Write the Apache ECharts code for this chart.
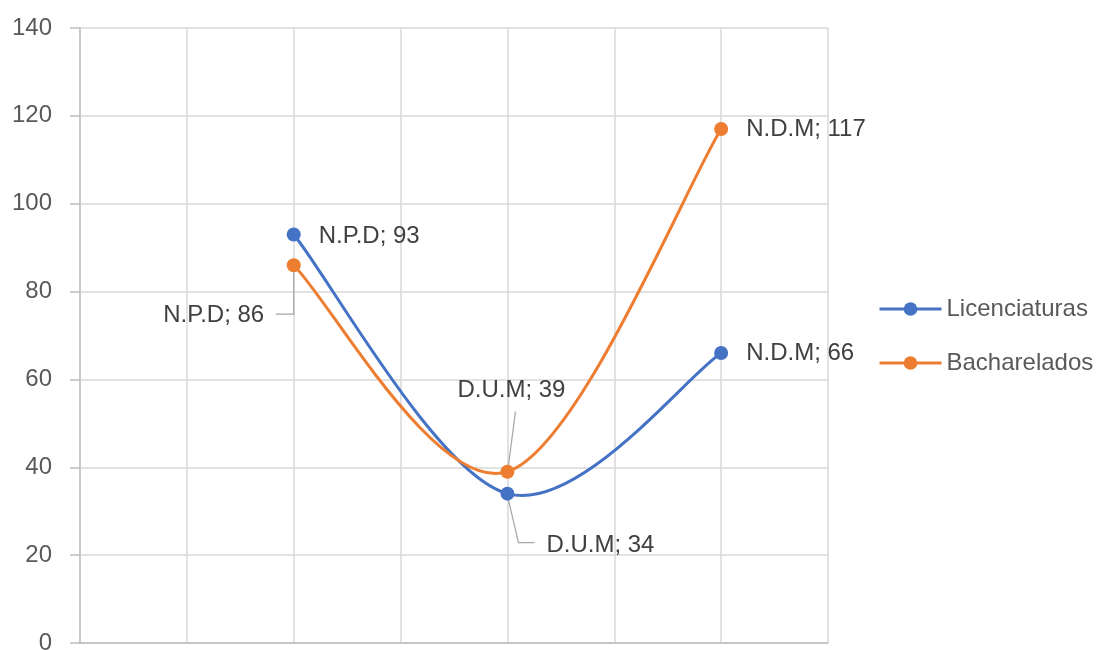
<!DOCTYPE html>
<html>
<head>
<meta charset="utf-8">
<script src="https://cdn.jsdelivr.net/npm/echarts@6/dist/echarts.min.js"></script>
<style>html,body{margin:0;padding:0;background:#fff;}#c{width:1107px;height:650px;}</style>
</head>
<body>
<div id="c"></div>
<script>
// ---- data ----
const categories = ['N.P.D', 'D.U.M', 'N.D.M'];
const xPositions = [2, 4, 6];
const licenciaturas = [93, 34, 66];
const bacharelados = [86, 39, 117];
const seriesNames = ['Licenciaturas', 'Bacharelados'];
const yMin = 0, yMax = 140, yStep = 20;
const xMin = 0, xMax = 7, xStep = 1;

const BLUE = '#4472C4', ORANGE = '#ED7D31';
const COLORS = [BLUE, ORANGE];
const SERIES_VALUES = [licenciaturas, bacharelados];
const FONT = 'Liberation Sans';

function fmt(p) { return categories[p.dataIndex] + '; ' + p.value[1]; }

const labelBase = { show: true, color: '#404040', fontFamily: FONT, fontSize: 24, formatter: fmt };

// per-point label placement
const licLabels = [
  { position: 'right', distance: 18, offset: [0, 2] },
  { position: 'inside', offset: [93, 52] },
  { position: 'right', distance: 18 }
];
const bachLabels = [
  { position: 'inside', offset: [-80, 50] },
  { position: 'inside', offset: [4, -81] },
  { position: 'right', distance: 18 }
];

function withLabels(vals, lbls) {
  return vals.map((v, i) => ({ value: [xPositions[i], v], label: lbls[i] }));
}

// leader lines (pixel offsets from the data point)
const leaders = [
  { series: bacharelados, idx: 0, path: [[0, 6], [0, 49], [-18, 49]] },
  { series: bacharelados, idx: 1, path: [[1, -6], [8, -60]] },
  { series: licenciaturas, idx: 1, path: [[1, 6], [11, 49], [27, 49]] }
];

// Excel-like smoothed curve (Catmull-Rom -> cubic Bezier) in pixel space
function smoothPath(p) {
  const n = p.length;
  let d = 'M' + p[0][0] + ',' + p[0][1];
  for (let i = 0; i < n - 1; i++) {
    const p0 = p[Math.max(i - 1, 0)], p1 = p[i], p2 = p[i + 1], p3 = p[Math.min(i + 2, n - 1)];
    const c1 = [p1[0] + (p2[0] - p0[0]) / 6, p1[1] + (p2[1] - p0[1]) / 6];
    const c2 = [p2[0] - (p3[0] - p1[0]) / 6, p2[1] - (p3[1] - p1[1]) / 6];
    d += ' C' + c1[0] + ',' + c1[1] + ' ' + c2[0] + ',' + c2[1] + ' ' + p2[0] + ',' + p2[1];
  }
  return d;
}

const chart = echarts.init(document.getElementById('c'));
chart.setOption({
  animation: false,
  backgroundColor: '#fff',
  grid: { left: 80, right: 279, top: 28, bottom: 7, containLabel: false, outerBoundsMode: 'none' },
  xAxis: {
    type: 'value', min: xMin, max: xMax, interval: xStep,
    axisLine: { show: true, lineStyle: { color: '#bfbfbf', width: 1.5 } },
    axisTick: { show: false },
    axisLabel: { show: false },
    splitLine: { show: true, lineStyle: { color: '#d9d9d9', width: 1.5 } }
  },
  yAxis: {
    type: 'value', min: yMin, max: yMax, interval: yStep,
    axisLine: { show: true, lineStyle: { color: '#bfbfbf', width: 1.5 } },
    axisTick: { show: true, length: 10, lineStyle: { color: '#bfbfbf', width: 1.5 } },
    axisLabel: { color: '#595959', fontFamily: FONT, fontSize: 24, margin: 28 },
    splitLine: { show: true, lineStyle: { color: '#d9d9d9', width: 1.5 } }
  },
  legend: {
    data: seriesNames.map((n, i) => ({
      name: n,
      lineStyle: { color: COLORS[i], width: 3, opacity: 1 },
      itemStyle: { color: COLORS[i] }
    })),
    orient: 'vertical',
    left: 873, top: 292,
    itemWidth: 62, itemHeight: 17, itemGap: 30,
    textStyle: { color: '#595959', fontFamily: FONT, fontSize: 24 }
  },
  series: [
    {
      type: 'custom',
      z: 1,
      silent: true,
      data: leaders.map((l, k) => [xPositions[l.idx], l.series[l.idx], k]),
      encode: { x: 0, y: 1 },
      renderItem: function (params, api) {
        const p = api.coord([api.value(0), api.value(1)]);
        const path = leaders[api.value(2)].path;
        return {
          type: 'polyline',
          shape: { points: path.map(o => [p[0] + o[0], p[1] + o[1]]) },
          style: { stroke: '#a6a6a6', lineWidth: 1.2, fill: null }
        };
      }
    },
    {
      type: 'custom',
      z: 2,
      silent: true,
      data: SERIES_VALUES.map((vals, s) => [xPositions[0], vals[0], s]),
      encode: { x: 0, y: 1 },
      renderItem: function (params, api) {
        const s = api.value(2);
        const vals = SERIES_VALUES[s];
        const p = vals.map((v, i) => api.coord([xPositions[i], v]));
        return {
          type: 'path',
          shape: { pathData: smoothPath(p) },
          style: { stroke: COLORS[s], lineWidth: 3, fill: null, lineJoin: 'round', lineCap: 'round' }
        };
      }
    },
    {
      name: seriesNames[0], type: 'line', z: 3,
      data: withLabels(licenciaturas, licLabels),
      symbol: 'circle', symbolSize: 14,
      lineStyle: { color: BLUE, width: 3, opacity: 0 },
      itemStyle: { color: BLUE },
      label: labelBase
    },
    {
      name: seriesNames[1], type: 'line', z: 4,
      data: withLabels(bacharelados, bachLabels),
      symbol: 'circle', symbolSize: 14,
      lineStyle: { color: ORANGE, width: 3, opacity: 0 },
      itemStyle: { color: ORANGE },
      label: labelBase
    }
  ]
});
</script>
</body>
</html>
